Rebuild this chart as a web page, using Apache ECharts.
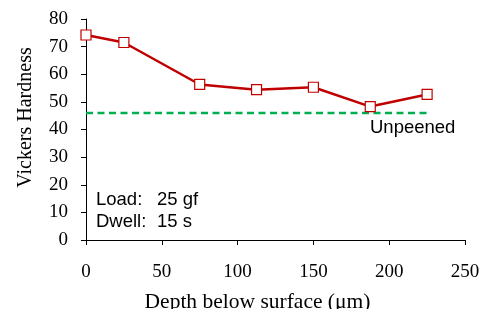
<!DOCTYPE html>
<html>
<head>
<meta charset="utf-8">
<script src="https://cdn.jsdelivr.net/npm/echarts@6/dist/echarts.min.js"></script>
<style>
  html, body { margin: 0; padding: 0; background: #fff; }
  #main { width: 486px; height: 309px; }
</style>
</head>
<body>
<div id="main"></div>
<script>
// depth (um) and hardness readings
var depth = [0, 25, 75, 112.5, 150, 187.5, 225];
var hardness = [74.2, 71.5, 56.3, 54.4, 55.3, 48.3, 52.7];
var unpeenedDepth = [0, 225];
var unpeenedHv = [46, 46];
var yTicks = [0, 10, 20, 30, 40, 50, 60, 70, 80];
var xTicks = [0, 50, 100, 150, 200, 250];

var serif = '"Liberation Serif", "Times New Roman", serif';
var sans = '"Liberation Sans", Arial, sans-serif';

var myChart = echarts.init(document.getElementById('main'));

myChart.setOption({
  animation: false,
  grid: { left: 86, right: 21, top: 19, bottom: 69, outerBoundsMode: 'none', containLabel: false },
  xAxis: {
    type: 'value',
    min: xTicks[0],
    max: xTicks[xTicks.length - 1],
    interval: 50,
    name: 'Depth below surface (\u03bcm)',
    nameLocation: 'middle',
    nameGap: 51,
    nameTextStyle: { fontFamily: serif, fontSize: 21.5, color: '#000', padding: [0, 36, 0, 0] },
    axisLine: { lineStyle: { color: '#000', width: 1 } },
    axisTick: { show: true, inside: false, length: 5, lineStyle: { color: '#000' } },
    axisLabel: { fontFamily: serif, fontSize: 19, color: '#000', margin: 23 },
    splitLine: { show: false }
  },
  yAxis: {
    type: 'value',
    min: yTicks[0],
    max: yTicks[yTicks.length - 1],
    interval: 10,
    name: 'Vickers Hardness',
    nameLocation: 'middle',
    nameGap: 50,
    nameTextStyle: { fontFamily: serif, fontSize: 20, color: '#000', padding: [0, 0, 0, 24] },
    axisLine: { show: true, lineStyle: { color: '#000', width: 1 } },
    axisTick: { show: true, inside: false, length: 5, lineStyle: { color: '#000' } },
    axisLabel: { fontFamily: serif, fontSize: 19, color: '#000', margin: 18 },
    splitLine: { show: false }
  },
  graphic: [
    {
      type: 'text', left: 370, top: 118,
      style: { text: 'Unpeened', font: '18.5px ' + sans, fill: '#000' }
    },
    {
      type: 'text', left: 96, top: 190,
      style: { text: 'Load:', font: '18.5px ' + sans, fill: '#000' }
    },
    {
      type: 'text', left: 157, top: 190,
      style: { text: '25 gf', font: '18.5px ' + sans, fill: '#000' }
    },
    {
      type: 'text', left: 96, top: 212,
      style: { text: 'Dwell:', font: '18.5px ' + sans, fill: '#000' }
    },
    {
      type: 'text', left: 157, top: 212,
      style: { text: '15 s', font: '18.5px ' + sans, fill: '#000' }
    }
  ],
  series: [
    {
      type: 'line',
      data: unpeenedDepth.map(function (d, i) { return [d, unpeenedHv[i]]; }),
      symbol: 'none',
      lineStyle: { color: '#00B050', width: 2.5, type: [7, 4.5] },
      z: 2
    },
    {
      type: 'line',
      data: depth.map(function (d, i) { return [d, hardness[i]]; }),
      symbol: 'rect',
      symbolSize: 10,
      lineStyle: { color: '#C00000', width: 2.5 },
      itemStyle: { color: '#fff', borderColor: '#C00000', borderWidth: 1.2 },
      z: 3
    }
  ]
});
</script>
</body>
</html>
